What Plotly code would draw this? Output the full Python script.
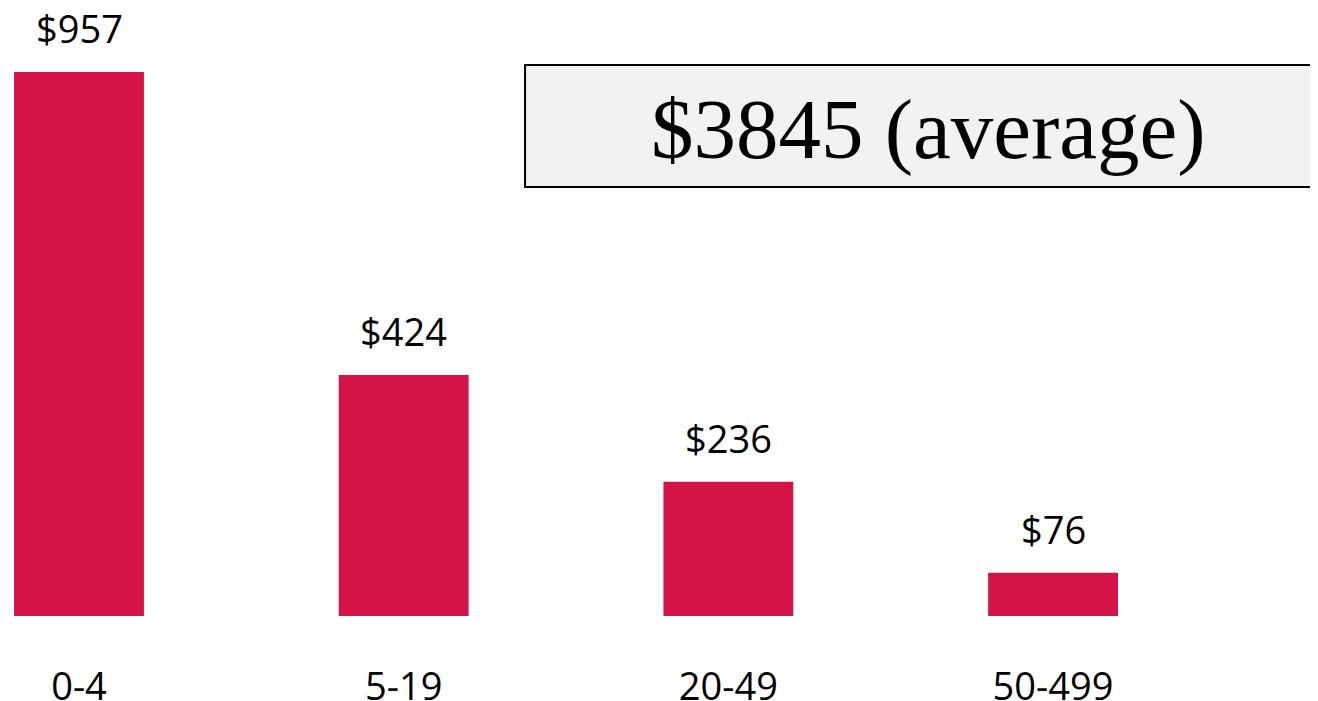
import plotly.graph_objects as go

categories = ["0-4", "5-19", "20-49", "50-499"]
values = [957, 424, 236, 76]
value_labels = ["$957", "$424", "$236", "$76"]
average_label = "$3845 (average)"

BAR_COLOR = "#D41346"
FONT = "Open Sans, Noto Sans, sans-serif"

fig = go.Figure()
fig.add_trace(go.Bar(
    x=categories, y=values, marker_color=BAR_COLOR, marker_line_width=0,
    width=0.4, hoverinfo="skip",
))

for c, v, t in zip(categories, values, value_labels):
    fig.add_annotation(x=c, y=v, text=t, showarrow=False, yanchor="bottom",
                       yshift=16, font=dict(family=FONT, size=38, color="black"))

fig.add_shape(type="rect", xref="paper", yref="paper",
              x0=0.3947, x1=1.02, y0=0.7056, y1=0.9063,
              fillcolor="#F2F2F2", line=dict(color="black", width=2), layer="below")
fig.add_annotation(xref="paper", yref="paper", x=0.7023, y=0.800, text=average_label,
                   showarrow=False, xanchor="center", yanchor="middle",
                   font=dict(family="Liberation Serif, Times New Roman, serif", size=85, color="black"))

fig.update_layout(
    width=1310, height=693,
    margin=dict(l=0, r=0, t=0, b=85, autoexpand=False),
    paper_bgcolor="white", plot_bgcolor="white",
    showlegend=False,
    xaxis=dict(type="category", range=[-0.2187, 3.816], showgrid=False, zeroline=False,
               showline=False, ticks="outside", ticklen=37, tickcolor="rgba(0,0,0,0)",
               automargin=False,
               tickfont=dict(family=FONT, size=38, color="black")),
    yaxis=dict(range=[0, 1069.6], visible=False, automargin=False),
)

fig.write_html("out.html")
